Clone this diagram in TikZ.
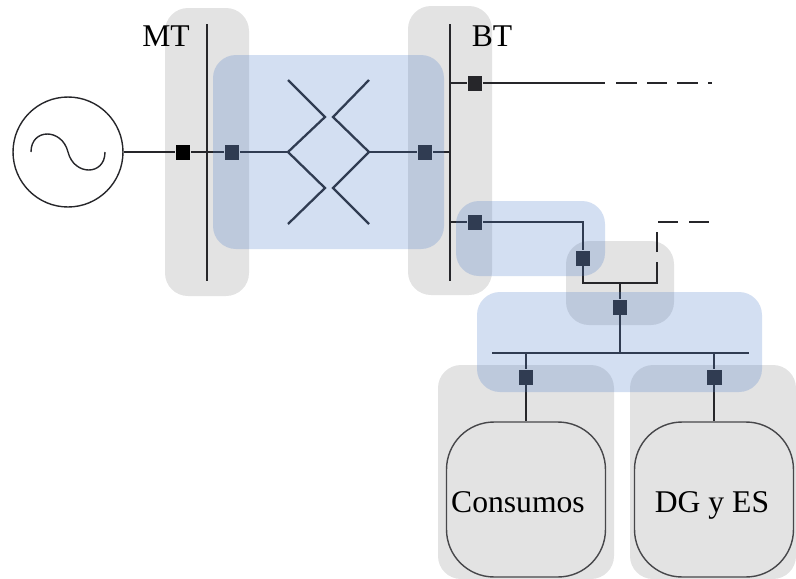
\documentclass[tikz,border=0pt]{standalone}
\usepackage{fontspec}
\usepackage{xcolor}
\setmainfont{Liberation Serif}
\definecolor{zonegray}{RGB}{227,227,227}
\definecolor{zoneblue}{RGB}{79,127,203}
\definecolor{wire}{RGB}{38,38,42}

\begin{document}
\begin{tikzpicture}[x=.02cm, y=-.02cm,
	graybox/.style={fill=zonegray, rounded corners=.46cm},
	bluebox/.style={fill=zoneblue, fill opacity=.25, rounded corners=.46cm},
	line/.style={color=wire, line width=1.3pt},
	bus/.style={color=wire, line width=1.5pt},
	brk/.style={rectangle, fill=wire, inner sep=0pt, minimum size=.3cm},
	load/.style={rectangle, draw=wire!85, line width=.8pt, rounded corners=.95cm, fill=zonegray, minimum width=3.18cm, minimum height=3.1cm},
	lbl/.style={font=\fontsize{18}{20}\selectfont, inner sep=0pt, anchor=base}]
	\useasboundingbox (0, 0) rectangle (796, 579);
	\fill[graybox] (165, 8) rectangle (249, 296);
	\fill[graybox] (408, 6) rectangle (492, 295);
	\fill[graybox] (566, 241) rectangle (674, 325);
	\fill[graybox] (438, 365) rectangle (614, 579);
	\fill[graybox] (630, 365) rectangle (796, 579);

	\coordinate (mtTop) at (207, 24);
	\coordinate (mtBot) at (207, 281);
	\coordinate (btTop) at (450, 24);
	\coordinate (btBot) at (450, 281);
	\coordinate (btFeedA) at (450, 83);
	\coordinate (btFeedB) at (450, 222);
	\coordinate (btIn) at (450, 152);
	\coordinate (feedAEnd) at (605, 83);
	\coordinate (feedBTurn) at (583, 222);
	\coordinate (splitL) at (583, 283);
	\coordinate (splitM) at (620, 283);
	\coordinate (splitR) at (657, 283);
	\coordinate (busL) at (492, 353);
	\coordinate (busM) at (620, 353);
	\coordinate (busR) at (749, 353);
	\coordinate (busC) at (526, 353);
	\coordinate (busD) at (714, 353);
	\coordinate (tIn) at (288, 152);
	\coordinate (tOut) at (369, 152);

	\node[circle, draw=wire, line width=.8pt, fill=white, minimum size=2.2cm, inner sep=0pt] (gen) at (68, 152) {};
	\node[brk, fill=black] (brkGen) at (183, 152) {};
	\node[brk] (brkT1) at (232, 152) {};
	\node[brk] (brkT2) at (425, 152) {};
	\node[brk] (brkA) at (475, 83) {};
	\node[brk] (brkB) at (475, 222) {};
	\node[brk] (brkC) at (583, 258) {};
	\node[brk] (brkD) at (620, 307) {};
	\node[brk] (brkE) at (526, 377) {};
	\node[brk] (brkF) at (714, 377) {};
	\node[load] (consumos) at (526, 499.5) {};
	\node[load] (dges) at (714, 499.5) {};

	\draw[line, line width=.8pt] (31, 152) .. controls (31, 128) and (62, 128) .. (68, 152) .. controls (74, 176) and (105, 176) .. (105, 152);
	\draw[bus] (mtTop) -- (mtBot);
	\draw[bus] (btTop) -- (btBot);
	\draw[bus] (busL) -- (busR);
	\draw[line] (gen) -- (brkGen);
	\draw[line] (brkGen) -- (brkT1);
	\draw[line] (brkT1) -- (tIn);
	\draw[line] (tOut) -- (brkT2);
	\draw[line] (brkT2) -- (btIn);
	\draw[line] (tIn) -- (325, 117) -- (288, 80);
	\draw[line] (tIn) -- (325, 188) -- (288, 224);
	\draw[line] (tOut) -- (333, 117) -- (369, 80);
	\draw[line] (tOut) -- (333, 188) -- (369, 224);
	\draw[line] (btFeedA) -- (brkA);
	\draw[line] (brkA) -- (feedAEnd);
	\draw[line] (btFeedB) -- (brkB);
	\draw[line] (brkB) -- (feedBTurn) -- (brkC);
	\draw[line] (brkC) -- (splitL) -- (splitR) -- (657, 262);
	\draw[line] (657, 252) -- (657, 232);
	\draw[line] (658, 222) -- (678, 222);
	\draw[line] (689, 222) -- (709, 222);
	\draw[line] (616, 83) -- (637, 83);
	\draw[line] (647, 83) -- (667, 83);
	\draw[line] (677, 83) -- (698, 83);
	\draw[line] (708, 83) -- (712, 83);
	\draw[line] (splitM) -- (brkD);
	\draw[line] (brkD) -- (busM);
	\draw[line] (busC) -- (brkE);
	\draw[line] (brkE) -- (consumos);
	\draw[line] (busD) -- (brkF);
	\draw[line] (brkF) -- (dges);

	\fill[bluebox] (213, 55) rectangle (444, 249);
	\fill[bluebox] (456, 201) rectangle (605, 276);
	\fill[bluebox] (477, 292) rectangle (762, 392);

	\node[lbl] (mtLabel) at (166, 46) {MT};
	\node[lbl] (btLabel) at (492, 46) {BT};
	\node[lbl] (consumosLabel) at (518, 512) {Consumos};
	\node[lbl] (dgesLabel) at (712, 512) {DG y ES};
\end{tikzpicture}
\end{document}
